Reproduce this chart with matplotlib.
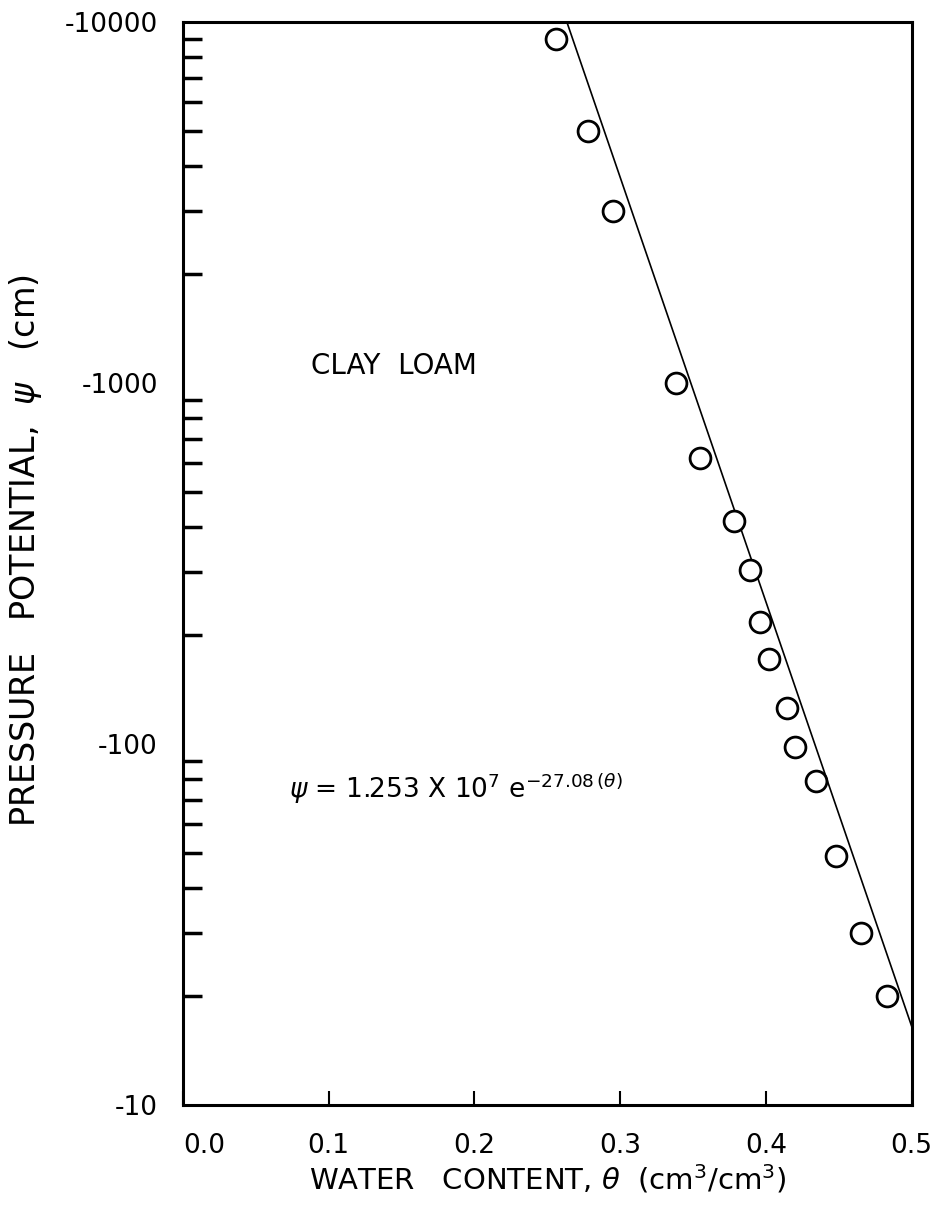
import numpy as np
import matplotlib
matplotlib.use("Agg")
import matplotlib.pyplot as plt
from matplotlib.ticker import FixedLocator, FuncFormatter, NullFormatter, LogLocator

# measured water retention, clay loam
theta = [0.256, 0.278, 0.295, 0.338, 0.355, 0.378, 0.389, 0.396,
         0.402, 0.4145, 0.420, 0.434, 0.448, 0.465, 0.483]
psi = [9000, 5000, 3000, 1000, 620, 415, 303, 218,
       172, 126, 98, 79, 49, 30, 20]

# fitted curve psi = a * exp(b * theta)
fit_a = 1.253e7
fit_b = -27.08

x_ticks = [0.0, 0.1, 0.2, 0.3, 0.4, 0.5]
y_ticks = [10, 100, 1000, 10000]

plt.rcParams['font.family'] = 'DejaVu Sans'

fig = plt.figure(figsize=(9.38, 12.06), dpi=100)
ax = fig.add_axes([0.195, 0.0837, 0.777, 0.898])

th = np.linspace(0, 0.5, 400)
ax.plot(th, fit_a * np.exp(fit_b * th), color='black', lw=1.2, zorder=2)
ax.plot(theta, psi, 'o', mfc='white', mec='black', ms=15, mew=2, zorder=3)

ax.set_xlim(0, 0.5)
ax.set_yscale('log')
ax.set_ylim(10, 10000)

ax.xaxis.set_major_locator(FixedLocator(x_ticks))
ax.xaxis.set_major_formatter(FuncFormatter(lambda v, p: f"{v:.1f}"))
ax.yaxis.set_major_locator(FixedLocator(y_ticks))
ax.yaxis.set_major_formatter(FuncFormatter(lambda v, p: f"-{int(v)}"))
ax.yaxis.set_minor_locator(LogLocator(base=10, subs=np.arange(2, 10)))
ax.yaxis.set_minor_formatter(NullFormatter())

ax.tick_params(axis='x', direction='in', length=10, width=1.5,
               labelsize=19, pad=20, top=False)
ax.tick_params(axis='y', which='major', direction='in', length=0,
               labelsize=19, pad=18)
ax.tick_params(axis='y', which='minor', direction='in', length=14, width=2.5)
for s in ax.spines.values():
    s.set_linewidth(2.2)

# keep "0.0" clear of the "-10" label
fig.canvas.draw()
ax.get_xticklabels()[0].set_horizontalalignment('left')

ax.set_xlabel(r"WATER   CONTENT, $\theta$  (cm$^3$/cm$^3$)", fontsize=21, labelpad=3)
ax.set_ylabel(r"PRESSURE   POTENTIAL,  $\psi$   (cm)", fontsize=24)
ax.yaxis.set_label_coords(-0.19, 0.512)

ax.text(0.088, 1115, "CLAY  LOAM", fontsize=20, va='center', ha='left')
ax.text(0.073, 75, r"$\psi$ = 1.253 X 10$^7$ e$^{-27.08\,(\theta)}$",
        fontsize=19, va='center', ha='left')

fig.savefig("out.png", dpi=100)
